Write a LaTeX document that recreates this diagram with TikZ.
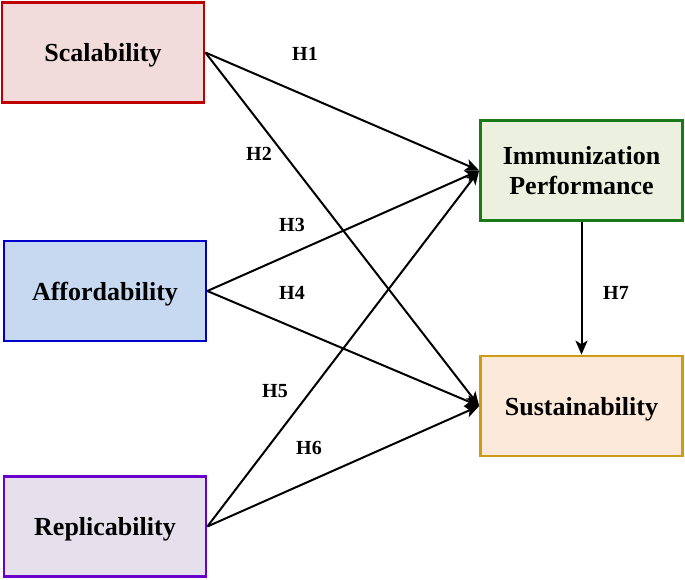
\documentclass[tikz,border=0pt]{standalone}
\usepackage{fontspec}
\setmainfont{Liberation Serif}
\usepackage{xcolor}
\usetikzlibrary{arrows.meta,positioning}
\tikzset{>={Stealth[length=7pt,width=6pt,inset=1.8pt]}}

\definecolor{scalfill}{HTML}{F2DCDB}
\definecolor{scalline}{HTML}{C00000}
\definecolor{afffill}{HTML}{C6D9F0}
\definecolor{affline}{HTML}{0000CC}
\definecolor{repfill}{HTML}{E5E0EC}
\definecolor{repline}{HTML}{6A00CC}
\definecolor{immfill}{HTML}{EBF1DE}
\definecolor{immline}{HTML}{1A7A1A}
\definecolor{sustfill}{HTML}{FDE9D9}
\definecolor{sustline}{HTML}{CC9D14}

\begin{document}
\begin{tikzpicture}[x=0.5pt, y=-0.5pt,
                          box/.style={draw, line width=1.35pt, minimum width=101pt, minimum height=50pt,
                                      align=center, text depth=0pt,
                                      font=\fontsize{13}{15}\selectfont\bfseries},
                          link/.style={line width=1pt, black, ->},
                          hyp/.style={font=\fontsize{10}{12}\selectfont\bfseries},
                         ]

\useasboundingbox (0,0) rectangle (685,579);

% constructs
\node[box, fill=scalfill, draw=scalline] (scal) at (103,52.5) {Scalability};
\node[box, fill=afffill, draw=affline] (aff) at (105,291) {Affordability};
\node[box, fill=repfill, draw=repline] (rep) at (105,526.5) {Replicability};
\node[box, fill=immfill, draw=immline] (imm) at (581.5,170.5) {Immunization\\Performance};
\node[box, fill=sustfill, draw=sustline] (sust) at (581.5,406) {Sustainability};

% paths
\draw[link] (scal.east) -- (imm.west);
\draw[link] (scal.east) -- (sust.west);
\draw[link] (aff.east) -- (imm.west);
\draw[link] (aff.east) -- (sust.west);
\draw[link] (rep.east) -- (imm.west);
\draw[link] (rep.east) -- (sust.west);
\draw[link] (imm.south) -- (sust.north);

% hypotheses
\node[hyp] (h1) at (305,54) {H1};
\node[hyp] (h2) at (259,154) {H2};
\node[hyp] (h3) at (292,225) {H3};
\node[hyp] (h4) at (292,293) {H4};
\node[hyp] (h5) at (275,391) {H5};
\node[hyp] (h6) at (309,448) {H6};
\node[hyp] (h7) at (616,293) {H7};

\end{tikzpicture}
\end{document}
